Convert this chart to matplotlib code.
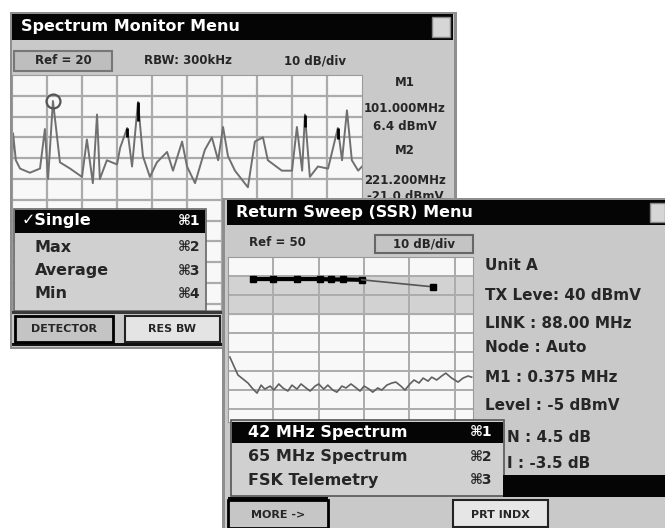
import matplotlib.pyplot as plt
from matplotlib.patches import Rectangle

W, H = 665, 528

# --- datos: Spectrum Monitor (MHz, dBmV) ---
spec_freq = [0, 3, 11, 23, 51, 80, 94, 103, 117, 137, 166, 200, 214, 231, 243, 251, 271, 300, 309, 329,
             343, 360, 374, 394, 414, 443, 460, 486, 500, 523, 551, 571, 589, 603, 617, 637, 674, 694, 717, 731,
             771, 800, 814, 829, 837, 851, 874, 903, 931, 943, 957, 971, 989, 1000]
spec_level = [-23, -8, -21, -25, -27, -25, -6, -30, 7.5, -22, -25, -29, -11, -32, 1, -30, -21, -23, -15, -5.5,
              -24, 7, -19, -29, -22, -17, -26, -12, -24, -32, -16, -10, -21, -5, -19, -26, -34, -12, -10, -21,
              -26, -26, -5, -26, 1, -29, -24, -25, -5.5, -21, 3, -21, -26, -24]
peak_freq = [329, 360, 837, 931]
peak_top = [-5.5, 7, 1, -5.5]
peak_bottom = [-10, -2, -5, -11]
m1_freq, m1_level = 117, 7.5

monitor_info = ['M1', '101.000MHz', '6.4 dBmV', 'M2', '221.200MHz', '-21.0 dBmV']
detector_items = ['\u2713Single', 'Max', 'Average', 'Min']

# --- datos: Return Sweep (MHz, dB) ---
sweep_freq = [5.5, 9.9, 15.2, 20.3, 22.7, 25.3, 29.5]
sweep_level = [38.4, 38.4, 38.4, 38.4, 38.2, 38.2, 38.0]
tail_freq = [29.5, 45.2]
tail_level = [38.0, 34.3]
noise_freq = [0.4, 1.3, 2.2, 3.3, 4.4, 5.3, 6.4, 7.3, 8.1, 9.3, 10.1, 11.2, 12.1, 13.2, 14.1, 15.2, 16.1, 17.2,
              18.1, 19.2, 20.0, 21.1, 22.0, 23.1, 24.0, 25.1, 26.0, 27.1, 28.0, 29.1, 30.0, 31.1, 31.9, 33.0,
              33.9, 35.0, 36.1, 37.0, 38.1, 39.0, 40.1, 41.0, 42.1, 43.0, 44.1, 44.9, 46.0, 47.1, 48.0, 49.3,
              50.7, 51.8, 52.9, 53.7]
noise_level = [-2.6, -7.4, -12.1, -14.2, -16.3, -18.9, -21.6, -17.4, -19.5, -17.9, -20.0, -16.8, -18.9, -20.5,
               -17.4, -19.5, -16.8, -18.9, -20.5, -17.9, -16.8, -19.5, -17.4, -20.0, -21.1, -17.9, -18.9, -16.8,
               -18.4, -20.5, -17.9, -19.5, -21.1, -18.9, -20.0, -17.4, -16.3, -15.8, -17.9, -20.0, -16.8, -14.7,
               -16.3, -13.7, -15.3, -13.2, -14.7, -12.6, -11.1, -13.7, -15.8, -13.7, -12.6, -13.2]

# las dos ultimas lineas quedan medio tapadas por el menu: solo se ve el final
ssr_info = ['Unit A', 'TX Leve: 40 dBmV', 'LINK : 88.00 MHz', 'Node : Auto', 'M1 : 0.375 MHz',
            'Level : -5 dBmV']
ssr_info_cut = ['N : 4.5 dB', 'I : -3.5 dB']
ssr_items = ['42 MHz Spectrum', '65 MHz Spectrum', 'FSK Telemetry']

GRIS = '#c9c9c9'
TXT = '#262626'

fig = plt.figure(figsize=(W / 100, H / 100), dpi=100)
fig.patch.set_facecolor('white')


def capa(z):
    a = fig.add_axes([0, 0, 1, 1], zorder=z)
    a.set_xlim(0, W)
    a.set_ylim(H, 0)
    a.axis('off')
    return a


def caja(a, x0, y0, x1, y1, fc, ec='none', lw=0):
    a.add_patch(Rectangle((x0, y0), x1 - x0, y1 - y0, facecolor=fc, edgecolor=ec, linewidth=lw))


def texto(a, x, y, s, size=8.5, color=TXT, ha='left'):
    a.text(x, y, s, fontsize=size, color=color, ha=ha, va='center', fontweight='bold',
           family='DejaVu Sans')


def ejes(x0, y0, x1, y1, z):
    return fig.add_axes([x0 / W, 1 - y1 / H, (x1 - x0) / W, (y1 - y0) / H], zorder=z)


# --- ventana 1: Spectrum Monitor Menu ---
c0 = capa(0)
caja(c0, 10, 12, 457, 349, '#8e8e8e')
caja(c0, 12, 14, 454, 346, GRIS)
caja(c0, 12, 14, 453, 40, '#050505')
caja(c0, 432, 17, 450, 37, '#d6d6d6', '#888888', 1)
texto(c0, 21, 27, 'Spectrum Monitor Menu', 11.5, 'white')
caja(c0, 14, 51, 112, 71, '#bebebe', '#777777', 1.5)
texto(c0, 63, 61, 'Ref = 20', ha='center')
texto(c0, 188, 61, 'RBW: 300kHz', ha='center')
texto(c0, 315, 61, '10 dB/div', ha='center')
for s, y in zip(monitor_info, [83, 109, 126, 150, 180, 196]):
    texto(c0, 405, y, s, 8.5, ha='center')

ax1 = ejes(12, 75, 362, 310, 1)
ax1.set_facecolor('#f8f8f8')
ax1.set_xlim(0, 1000)
ax1.set_ylim(-93, 20)
ax1.set_xticks(range(100, 1000, 100))
ax1.set_yticks(range(10, -100, -10))
ax1.grid(True, color='#ababab', lw=1.6)
ax1.set_axisbelow(True)
ax1.tick_params(length=0, labelbottom=False, labelleft=False)
for sp in ax1.spines.values():
    sp.set_color('#9a9a9a')
ax1.plot(spec_freq, spec_level, color='#707070', lw=1.4)
ax1.vlines(peak_freq, peak_bottom, peak_top, color='black', lw=2)
ax1.plot(m1_freq, m1_level, 'o', mfc='none', mec='#555555', ms=10, mew=1.6)

# --- menu detector y ventana 2 ---
c2 = capa(2)
caja(c2, 14, 209, 206, 311, '#d0d0d0', '#666666', 1.2)
caja(c2, 15, 210, 205, 233, '#050505')
for i, (s, y) in enumerate(zip(detector_items, [221, 247, 271, 294])):
    col = 'white' if i == 0 else TXT
    texto(c2, 22 if i == 0 else 35, y, s, 11.5, col)
    texto(c2, 178, y, '\u2318' + str(i + 1), 10, col)
caja(c2, 12, 311, 222, 347, GRIS)
caja(c2, 12, 311, 222, 314, '#3a3a3a')
caja(c2, 12, 343, 222, 346, '#111111')
caja(c2, 15, 316, 113, 342, '#c4c4c4', 'black', 2)
caja(c2, 125, 316, 220, 342, '#e4e4e4', '#222222', 1.5)
texto(c2, 64, 329, 'DETECTOR', 8, ha='center')
texto(c2, 172, 329, 'RES BW', 8, ha='center')

caja(c2, 222, 198, 665, 528, '#8e8e8e')
caja(c2, 225, 200, 665, 528, GRIS)
caja(c2, 227, 200, 665, 225, '#050505')
caja(c2, 650, 203, 665, 222, '#d6d6d6', '#888888', 1)
texto(c2, 236, 212, 'Return Sweep (SSR) Menu', 11.5, 'white')
texto(c2, 249, 243, 'Ref = 50', 8.5)
caja(c2, 375, 235, 473, 253, '#c4c4c4', '#666666', 1.5)
texto(c2, 424, 244, '10 dB/div', ha='center')
for s, y in zip(ssr_info, [265, 295, 323, 348, 378, 405]):
    texto(c2, 485, y, s, 11)
for s, y in zip(ssr_info_cut, [437, 463]):
    texto(c2, 507, y, s, 11)

ax2 = ejes(228, 257, 473, 422, 3)
ax2.set_facecolor('#f8f8f8')
ax2.set_xlim(0, 54)
ax2.set_ylim(-36.8, 50)
ax2.set_xticks(range(10, 60, 10))
ax2.set_yticks(range(40, -40, -10))
ax2.grid(True, color='#ababab', lw=1.4)
ax2.set_axisbelow(True)
ax2.tick_params(length=0, labelbottom=False, labelleft=False)
for sp in ax2.spines.values():
    sp.set_color('#9a9a9a')
ax2.axhspan(20, 40, color='#d2d2d2', zorder=0.3)
ax2.plot(sweep_freq, sweep_level, color='black', lw=3, marker='s', ms=5)
ax2.plot(tail_freq, tail_level, color='#555555', lw=1.2)
ax2.plot(tail_freq[-1], tail_level[-1], 's', color='black', ms=5)
ax2.plot(noise_freq, noise_level, color='#606060', lw=1.2)

# --- menu de la ventana 2 y botones ---
c4 = capa(4)
caja(c4, 231, 420, 504, 496, '#d0d0d0', '#555555', 1.2)
caja(c4, 232, 422, 503, 443, '#050505')
for i, (s, y) in enumerate(zip(ssr_items, [432, 457, 480])):
    col = 'white' if i == 0 else TXT
    texto(c4, 248, y, s, 11.5, col)
    texto(c4, 470, y, '\u2318' + str(i + 1), 10, col)
caja(c4, 503, 475, 665, 497, '#050505')
caja(c4, 228, 497, 328, 500, '#050505')
caja(c4, 228, 500, 328, 528, '#c6c6c6', 'black', 2)
caja(c4, 453, 500, 548, 527, '#e6e6e6', '#222222', 1.5)
texto(c4, 278, 515, 'MORE ->', 8, ha='center')
texto(c4, 500, 515, 'PRT INDX', 8, ha='center')

plt.savefig('out.png', dpi=100)
